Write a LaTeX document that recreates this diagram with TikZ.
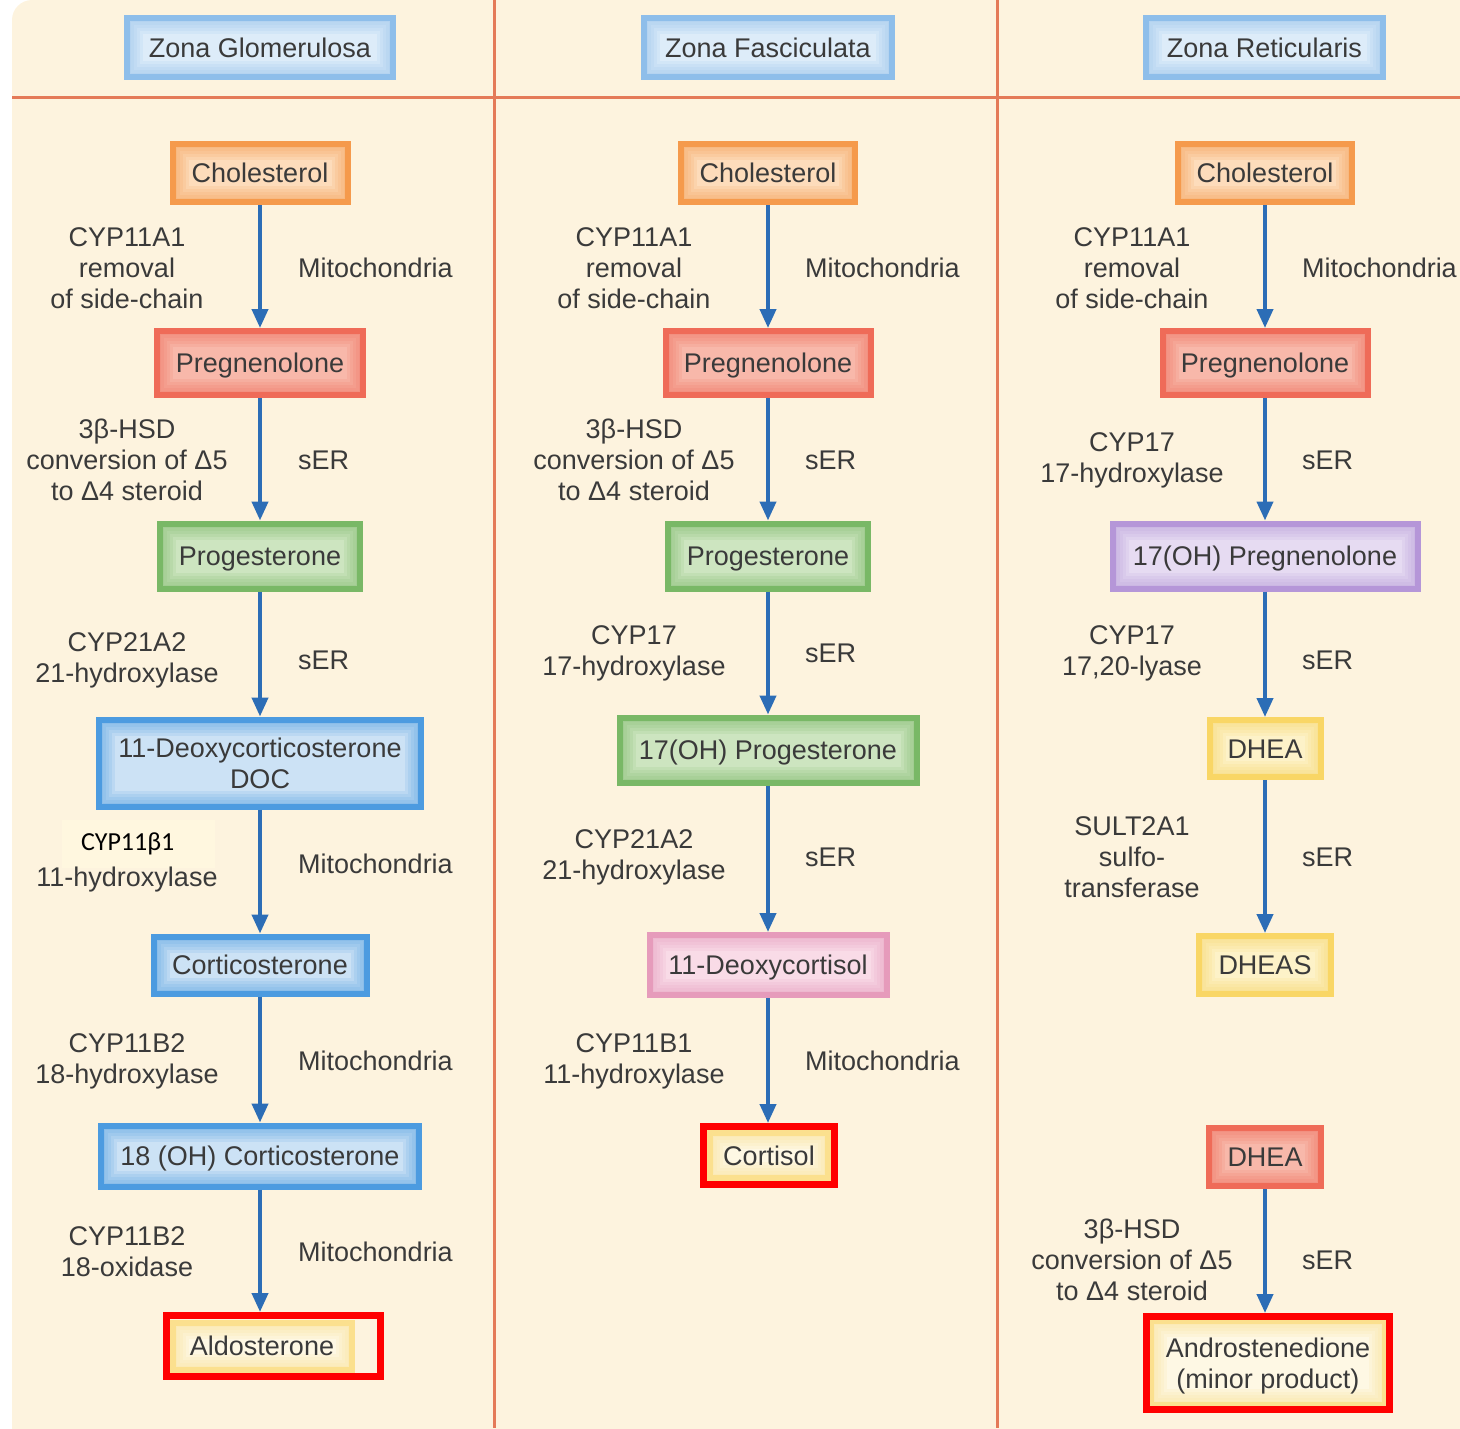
\documentclass[tikz,border=0pt]{standalone}
\usepackage{fontspec}
\setmainfont{Liberation Sans}
\newfontfamily\calfont{Carlito}
\usetikzlibrary{arrows.meta}
\definecolor{cream}{HTML}{FDF3DE}
\definecolor{calbg}{HTML}{FFF7DF}
\definecolor{divline}{HTML}{E47A58}
\definecolor{txt}{HTML}{3A3A3A}
\definecolor{arrowblue}{HTML}{2C6DB6}
\definecolor{hdedge}{HTML}{8EBEEA}\definecolor{hdfill}{HTML}{DDECF9}
\definecolor{blueedge}{HTML}{4C9BE0}\definecolor{bluefill}{HTML}{CCE2F5}
\definecolor{orangeedge}{HTML}{F59A4C}\definecolor{orangefill}{HTML}{FDDCBB}
\definecolor{rededge}{HTML}{EF6B58}\definecolor{redfill}{HTML}{F8B8AA}
\definecolor{greenedge}{HTML}{79B866}\definecolor{greenfill}{HTML}{CDE5C0}
\definecolor{purpleedge}{HTML}{B596D8}\definecolor{purplefill}{HTML}{E6DBF2}
\definecolor{pinkedge}{HTML}{E69BBB}\definecolor{pinkfill}{HTML}{F9DBE7}
\definecolor{yellowedge}{HTML}{F9D665}\definecolor{yellowfill}{HTML}{FDF2C8}
\definecolor{paleedge}{HTML}{FBE08E}\definecolor{palefill}{HTML}{FEF8E4}
\newcommand{\fs}{\fontsize{27}{31}\selectfont}
\tikzset{
  bx/.style={draw=#1edge, fill=#1fill, line width=6pt, inner sep=0pt,
    align=center, font=\fs, text=txt, text height=19.5pt, text depth=0pt,
    path picture={
      \foreach \w in {32,26,20,14,8}
        \draw[#1edge, opacity=.13, line width=\w pt] (path picture bounding box.south west) rectangle (path picture bounding box.north east);
    }},
  hl/.style={draw=red, line width=7pt, inner sep=0pt},
  lab/.style={font=\fs, text=txt, align=center, inner sep=0pt},
  rlab/.style={lab, anchor=west},
  arr/.style={draw=arrowblue, line width=4pt, -{Triangle[width=16pt,length=19pt]}},
}
\begin{document}
\begin{tikzpicture}[x=1pt,y=-1pt]
\useasboundingbox (0,0) rectangle (1460,1428);
\begin{scope}
\clip (0,0) rectangle (1460,1428);
\fill[cream, rounded corners=20pt] (12,0) rectangle (1500,1460);
\end{scope}
% dividers
\draw[divline, line width=3pt] (12,97) -- (1460,97);
\draw[divline, line width=3pt] (494,0) -- (494,1428);
\draw[divline, line width=3pt] (997,0) -- (997,1428);
% headers
\node[bx=hd, minimum width=266pt, minimum height=59pt] (h1) at (260,47.5) {Zona Glomerulosa};
\node[bx=hd, minimum width=248pt, minimum height=59pt] (h2) at (768,47.5) {Zona Fasciculata};
\node[bx=hd, minimum width=237pt, minimum height=59pt] (h3) at (1264.5,47.5) {Zona Reticularis};
% ---------- column 1 ----------
\node[bx=orange, minimum width=175pt, minimum height=58pt] (c1) at (260,173) {Cholesterol};
\node[bx=red, minimum width=206pt, minimum height=64pt] (p1) at (260,363) {Pregnenolone};
\node[bx=green, minimum width=200pt, minimum height=65pt] (g1) at (260,556) {Progesterone};
\node[bx=blue, minimum width=322pt, minimum height=87pt, text height=50.5pt] (doc) at (260,763) {11-Deoxycorticosterone\\DOC};
\node[bx=blue, minimum width=213pt, minimum height=57pt] (cort) at (260,965) {Corticosterone};
\node[bx=blue, minimum width=318pt, minimum height=61pt] (oh18) at (260,1156) {18 (OH) Corticosterone};
\node[bx=pale, minimum width=179pt, minimum height=47pt] (aldo) at (262,1346) {Aldosterone};
\node[hl, minimum width=214pt, minimum height=61pt] (aldohl) at (273.5,1346) {};
\node[lab] (l11) at (127,268) {CYP11A1\\removal\\of side-chain};
\node[rlab] (r11) at (298,268) {Mitochondria};
\node[lab] (l12) at (127,460) {3β-HSD\\conversion of Δ5\\to Δ4 steroid};
\node[rlab] (r12) at (298,460) {sER};
\node[lab] (l13) at (127,660) {CYP21A2\\21-hydroxylase};
\node[rlab] (r13) at (298,660) {sER};
\node[fill=calbg, minimum height=48pt, text width=115pt, inner xsep=19pt, inner ysep=0pt, align=left, font=\calfont\fontsize{26}{30}\selectfont, text=black] (l14a) at (138.5,844) {CYP11β1};
\node[lab] (l14) at (127,880) {11-hydroxylase};
\node[rlab] (r14) at (298,864) {Mitochondria};
\node[lab] (l15) at (127,1061) {CYP11B2\\18-hydroxylase};
\node[rlab] (r15) at (298,1061) {Mitochondria};
\node[lab] (l16) at (127,1252) {CYP11B2\\18-oxidase};
\node[rlab] (r16) at (298,1252) {Mitochondria};
\draw[arr] (c1.south) -- (c1.south |- p1.north);
\draw[arr] (p1.south) -- (p1.south |- g1.north);
\draw[arr] (g1.south) -- (g1.south |- doc.north);
\draw[arr] (doc.south) -- (doc.south |- cort.north);
\draw[arr] (cort.south) -- (cort.south |- oh18.north);
\draw[arr] (oh18.south) -- (oh18.south |- aldohl.north);
% ---------- column 2 ----------
\node[bx=orange, minimum width=174pt, minimum height=58pt] (c2) at (768,173) {Cholesterol};
\node[bx=red, minimum width=205pt, minimum height=64pt] (p2) at (768,363) {Pregnenolone};
\node[bx=green, minimum width=200pt, minimum height=65pt] (g2) at (768,556) {Progesterone};
\node[bx=green, minimum width=297pt, minimum height=65pt] (ohp) at (768,750) {17(OH) Progesterone};
\node[bx=pink, minimum width=237pt, minimum height=60pt] (dx) at (768,965) {11-Deoxycortisol};
\node[bx=pale, minimum width=118pt, minimum height=45pt] (cortisol) at (769,1155.5) {Cortisol};
\node[hl, minimum width=131pt, minimum height=58pt] (cortisolhl) at (769,1155.5) {};
\node[lab] (l21) at (634,268) {CYP11A1\\removal\\of side-chain};
\node[rlab] (r21) at (805,268) {Mitochondria};
\node[lab] (l22) at (634,460) {3β-HSD\\conversion of Δ5\\to Δ4 steroid};
\node[rlab] (r22) at (805,460) {sER};
\node[lab] (l23) at (634,653) {CYP17\\17-hydroxylase};
\node[rlab] (r23) at (805,653) {sER};
\node[lab] (l24) at (634,857) {CYP21A2\\21-hydroxylase};
\node[rlab] (r24) at (805,857) {sER};
\node[lab] (l25) at (634,1061) {CYP11B1\\11-hydroxylase};
\node[rlab] (r25) at (805,1061) {Mitochondria};
\draw[arr] (c2.south) -- (c2.south |- p2.north);
\draw[arr] (p2.south) -- (p2.south |- g2.north);
\draw[arr] (g2.south) -- (g2.south |- ohp.north);
\draw[arr] (ohp.south) -- (ohp.south |- dx.north);
\draw[arr] (dx.south) -- (dx.south |- cortisolhl.north);
% ---------- column 3 ----------
\node[bx=orange, minimum width=174pt, minimum height=58pt] (c3) at (1265,173) {Cholesterol};
\node[bx=red, minimum width=205pt, minimum height=64pt] (p3) at (1265,363) {Pregnenolone};
\node[bx=purple, minimum width=305pt, minimum height=65pt] (ohpr) at (1265,556) {17(OH) Pregnenolone};
\node[bx=yellow, minimum width=111pt, minimum height=57pt] (dhea) at (1265,748.5) {DHEA};
\node[bx=yellow, minimum width=132pt, minimum height=58pt] (dheas) at (1265,965) {DHEAS};
\node[bx=red, minimum width=112pt, minimum height=58pt] (dhea2) at (1265,1157) {DHEA};
\node[bx=pale, minimum width=234pt, minimum height=84pt, text height=50.5pt] (andro) at (1268,1363) {Androstenedione\\(minor product)};
\node[hl, minimum width=243pt, minimum height=93pt] (androhl) at (1268,1363) {};
\node[lab] (l31) at (1132,268) {CYP11A1\\removal\\of side-chain};
\node[rlab] (r31) at (1302,268) {Mitochondria};
\node[lab] (l32) at (1132,460) {CYP17\\17-hydroxylase};
\node[rlab] (r32) at (1302,460) {sER};
\node[lab] (l33) at (1132,653) {CYP17\\17,20-lyase};
\node[rlab] (r33) at (1302,660) {sER};
\node[lab] (l34) at (1132,857) {SULT2A1\\sulfo-\\transferase};
\node[rlab] (r34) at (1302,857) {sER};
\node[lab] (l35) at (1132,1260) {3β-HSD\\conversion of Δ5\\to Δ4 steroid};
\node[rlab] (r35) at (1302,1260) {sER};
\draw[arr] (c3.south) -- (c3.south |- p3.north);
\draw[arr] (p3.south) -- (p3.south |- ohpr.north);
\draw[arr] (ohpr.south) -- (ohpr.south |- dhea.north);
\draw[arr] (dhea.south) -- (dhea.south |- dheas.north);
\draw[arr] (dhea2.south) -- (dhea2.south |- androhl.north);
\end{tikzpicture}
\end{document}
